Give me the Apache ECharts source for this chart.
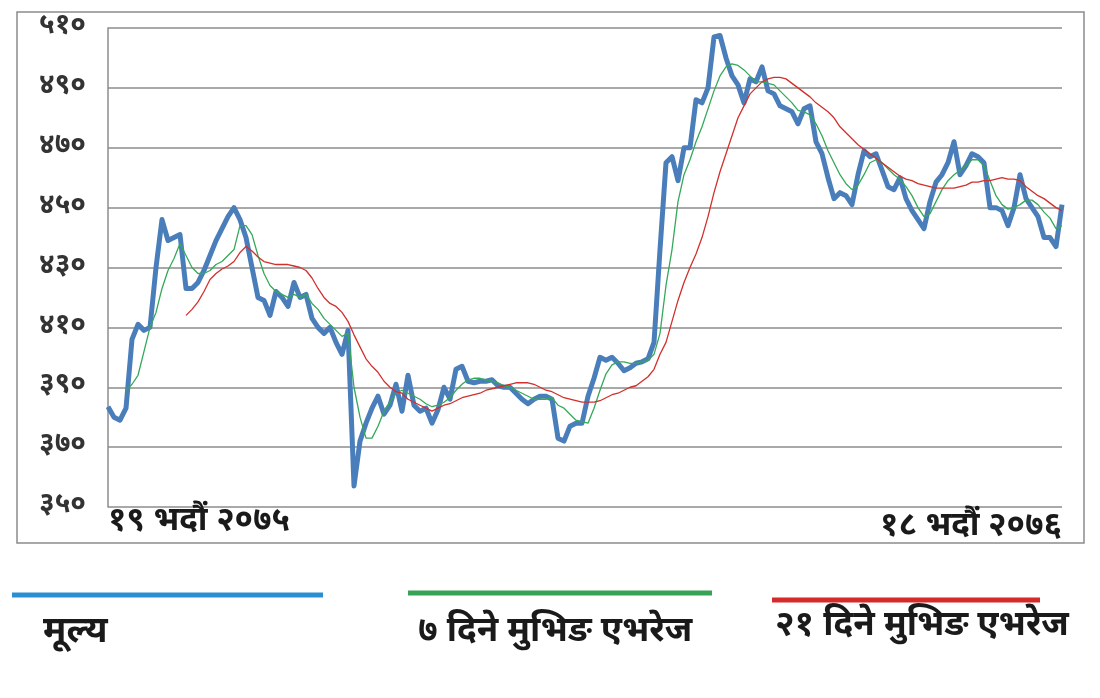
<!DOCTYPE html>
<html>
<head>
<meta charset="utf-8">
<script src="https://cdn.jsdelivr.net/npm/echarts@6/dist/echarts.min.js"></script>
<style>
html,body{margin:0;padding:0;background:#fff;}
#c{width:1100px;height:698px;}
</style>
</head>
<body>
<div id="c"></div>
<script>
// Price (मूल्य), one value per trading day
const price = [
383.5,380,379,383,406,411,409,410,430,446,
439,440,441,423,423,425,429,434,439,443,
447,450,446,440,430,420,419,414,422,420,
417,425,420,421,413,410,408,410,405,401,
409,357,372,378,383,387,381,384,391,382,
394,384,382,383,378,382.5,390,386,396,397,
392,391.5,392,392,392.5,390.5,390,390,388,386,
384.5,386,387,387,386,373,372,377,378,378,
387,393,400,399,400,398,395.5,396.5,398,398.5,
399.5,405,436,465,467,459,470,470,486,485,
490,507,507.5,500,494,491,485,493,492,497,
489,488,484,483,482,478,483,484,472,468,
460,453,455,454,451,461,469,467,468,462.5,
457,456,460,453,449,446,443,452,458.5,461,
465,472,461,464,468,467,465,450,450,449,
444,450,461,453,450,447,440,440,437,451
];
// 7-day moving average (७ दिने मुभिङ एभरेज)
const ma7 = [
null,null,null,389,391,394,402,410,415,423,
429,433,438,434,430,428,428,429,431,432,
434,436,444,444,441,434,428,424,422,421,
420,421,420,421,418,416,413,411,409,407,
408,390,380,373,373,377,382,385,388,389,
388,387,386,384.5,383.5,384,385,386.5,389,391,
392.5,393,393,392.5,392,391.5,390.5,390,389,388,
387,386,386,386,386.5,384,383,381,379,378.5,
378,383,389,394.5,397.5,398.5,398.5,398,398,398.5,
399,401,408,424,436,452,461,466,472,477,
483,489,494,497,498,497.5,496,494,492,492,
491.5,491,489,487,485,482.5,482,481,478,474,
469,465,461,458,456,457.5,461,465,466,465,
463,461,459.5,457,454,450,447,448,452,456,
459,461,462.5,464,466,466,464,459,454,451,
449.5,450,451,452.5,452.5,451,448.5,446.5,443,444
];
// 21-day moving average (२१ दिने मुभिङ एभरेज)
const ma21 = [
null,null,null,null,null,null,null,null,null,null,
null,null,null,414,416,418.5,422,426,428,429.5,
430.5,432,435,437,435.5,433.5,432,431.5,431,431,
431,430.5,430,429,426.5,423,420,418,417,415,
412,407.5,403.5,399.5,397,395,392,390,388.5,388,
386,385,384,383,382,383,384,384.5,385.5,386.5,
387,387.5,388,389,389.5,390,390.5,391,391.5,391.5,
391.5,391,390,389,388.5,387.5,386.5,386,385.5,385,
385,385,385.5,386.5,387.5,388,389,390,390.5,392,
393.5,396,401,405,412,419,425,430,434.5,440,
447,455,462,468,474,480,484,488,490,492,
493,493.5,493.5,493,491.5,490,488.5,487,485,483.5,
482,480,477,475,473,471,469.5,468,466.5,465,
463.5,462,460.5,459.5,459,458,457.5,457,456.5,456.5,
456.5,456.5,457,457.5,458.5,458.5,459,459,459.5,460,
459.5,459.5,459,457,455.5,454,453,451.5,450,449
];
const seriesNames = ['मूल्य', '७ दिने मुभिङ एभरेज', '२१ दिने मुभिङ एभरेज'];
const xTickLabels = ['१९ भदौं २०७५', '१८ भदौं २०७६'];
const yMin = 350, yMax = 510, yStep = 20;

const days = price.map((_, i) => String(i));
const devDigits = '०१२३४५६७८९';
const toDev = n => String(n).replace(/[0-9]/g, d => devDigits[+d]);

const FONT = "'Noto Sans Devanagari','Lohit Devanagari','Mukta','Noto Sans',sans-serif";
const colors = { price: '#4a7ebb', ma7: '#35a85a', ma21: '#d2302c' };
const legendColors = ['#2a8fd2', '#36a356', '#d42a2a'];

const chart = echarts.init(document.getElementById('c'), null, { renderer: 'canvas' });
chart.setOption({
  animation: false,
  backgroundColor: '#ffffff',
  grid: { left: 108, right: 38, top: 28, bottom: 191, containLabel: false },
  xAxis: {
    type: 'category',
    data: days,
    boundaryGap: false,
    axisLine: { show: false },
    axisTick: { show: false },
    splitLine: { show: false },
    axisLabel: {
      show: true,
      interval: (i) => i === 0 || i === days.length - 1,
      alignMinLabel: 'left',
      alignMaxLabel: 'right',
      margin: 0,
      formatter: (v, i) => i === 0 ? '{a|' + xTickLabels[0] + '}' : '{b|' + xTickLabels[1] + '}',
      rich: {
        a: { fontFamily: FONT, fontSize: 33, fontWeight: 'bold', color: '#1a1a1a', lineHeight: 34 },
        b: { fontFamily: FONT, fontSize: 33, fontWeight: 'bold', color: '#1a1a1a', lineHeight: 34, padding: [9, 0, 0, 0] }
      }
    }
  },
  yAxis: {
    type: 'value',
    min: yMin, max: yMax, interval: yStep,
    axisLine: { show: true, lineStyle: { color: '#8c8c8c', width: 1.5 } },
    axisTick: { show: false },
    splitLine: { show: true, lineStyle: { color: '#8c8c8c', width: 1.5 } },
    axisLabel: {
      margin: 22,
      fontFamily: FONT, fontSize: 28, fontWeight: 'bold', color: '#333333',
      formatter: v => toDev(v)
    }
  },
  series: [
    { name: seriesNames[0], type: 'line', data: price, symbol: 'none', z: 3,
      lineStyle: { color: colors.price, width: 5, join: 'round' } },
    { name: seriesNames[1], type: 'line', data: ma7, symbol: 'none', z: 4,
      lineStyle: { color: colors.ma7, width: 1.3 } },
    { name: seriesNames[2], type: 'line', data: ma21, symbol: 'none', z: 5,
      lineStyle: { color: colors.ma21, width: 1.3 } }
  ],
  graphic: [
    { type: 'rect', shape: { x: 17, y: 12, width: 1067, height: 531 }, silent: true,
      style: { fill: null, stroke: '#8c8c8c', lineWidth: 1.5 } },
    { type: 'line', shape: { x1: 12, y1: 595, x2: 323, y2: 595 }, style: { stroke: legendColors[0], lineWidth: 5 } },
    { type: 'line', shape: { x1: 408, y1: 593, x2: 712, y2: 593 }, style: { stroke: legendColors[1], lineWidth: 5 } },
    { type: 'line', shape: { x1: 772, y1: 600, x2: 1040, y2: 600 }, style: { stroke: legendColors[2], lineWidth: 5 } },
    { type: 'text', left: 43, top: 617, style: { text: seriesNames[0], font: "bold 36px " + FONT, fill: '#1a1a1a' } },
    { type: 'text', left: 418, top: 617, style: { text: seriesNames[1], font: "bold 35px " + FONT, fill: '#1a1a1a' } },
    { type: 'text', left: 775, top: 611, style: { text: seriesNames[2], font: "bold 35px " + FONT, fill: '#1a1a1a' } }
  ]
});
</script>
</body>
</html>
